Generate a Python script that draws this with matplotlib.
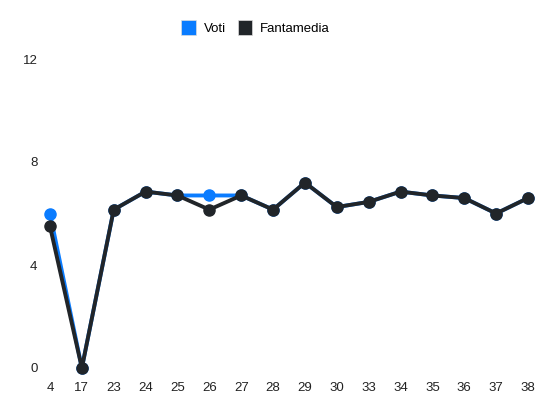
import matplotlib
matplotlib.use("Agg")
import matplotlib.pyplot as plt
from matplotlib.patches import Patch

categories = ["4", "17", "23", "24", "25", "26", "27", "28", "29", "30", "33", "34", "35", "36", "37", "38"]
voti = [6.0, 0, 6.15, 6.85, 6.7, 6.7, 6.7, 6.15, 7.2, 6.25, 6.45, 6.85, 6.7, 6.6, 6.0, 6.6]
fantamedia = [5.5, 0, 6.15, 6.85, 6.7, 6.15, 6.7, 6.15, 7.2, 6.25, 6.45, 6.85, 6.7, 6.6, 6.0, 6.6]
yticks = [0, 4, 8, 12]

BLUE = "#0a7cff"
DARK = "#212529"
FS = 9.5

plt.rcParams['font.family'] = ['Liberation Sans', 'DejaVu Sans']

fig = plt.figure(figsize=(5.5, 4.12), dpi=100)
ax = fig.add_axes([50/550, 44/412, 478/550, 309/412])

x = list(range(len(categories)))
ax.plot(x, voti, color=BLUE, lw=2.8, marker="o", ms=8, clip_on=False, zorder=3)
ax.plot(x, fantamedia, color=DARK, lw=2.8, marker="o", ms=8, clip_on=False, zorder=4)

ax.set_xlim(0, len(categories) - 1)
ax.set_ylim(0, 12)
ax.set_xticks(x)
ax.set_xticklabels(categories)
ax.set_yticks(yticks)
ax.set_yticklabels([str(v) for v in yticks])
for s in ax.spines.values():
    s.set_visible(False)
ax.tick_params(axis="both", length=0, labelsize=FS, colors="#222222")
ax.tick_params(axis="y", pad=9)
ax.tick_params(axis="x", pad=10)

handles = [Patch(facecolor=BLUE, edgecolor="#dddddd", lw=0.5),
           Patch(facecolor=DARK, edgecolor="#dddddd", lw=0.5)]
fig.legend(handles, ["Voti", "Fantamedia"], loc="center", bbox_to_anchor=(255.5/550, 1 - 27.5/412),
           ncol=2, frameon=False, fontsize=FS, handlelength=1.1, handleheight=1.4,
           handletextpad=0.6, columnspacing=0.9, borderpad=0)

fig.savefig("out.png", dpi=100)
